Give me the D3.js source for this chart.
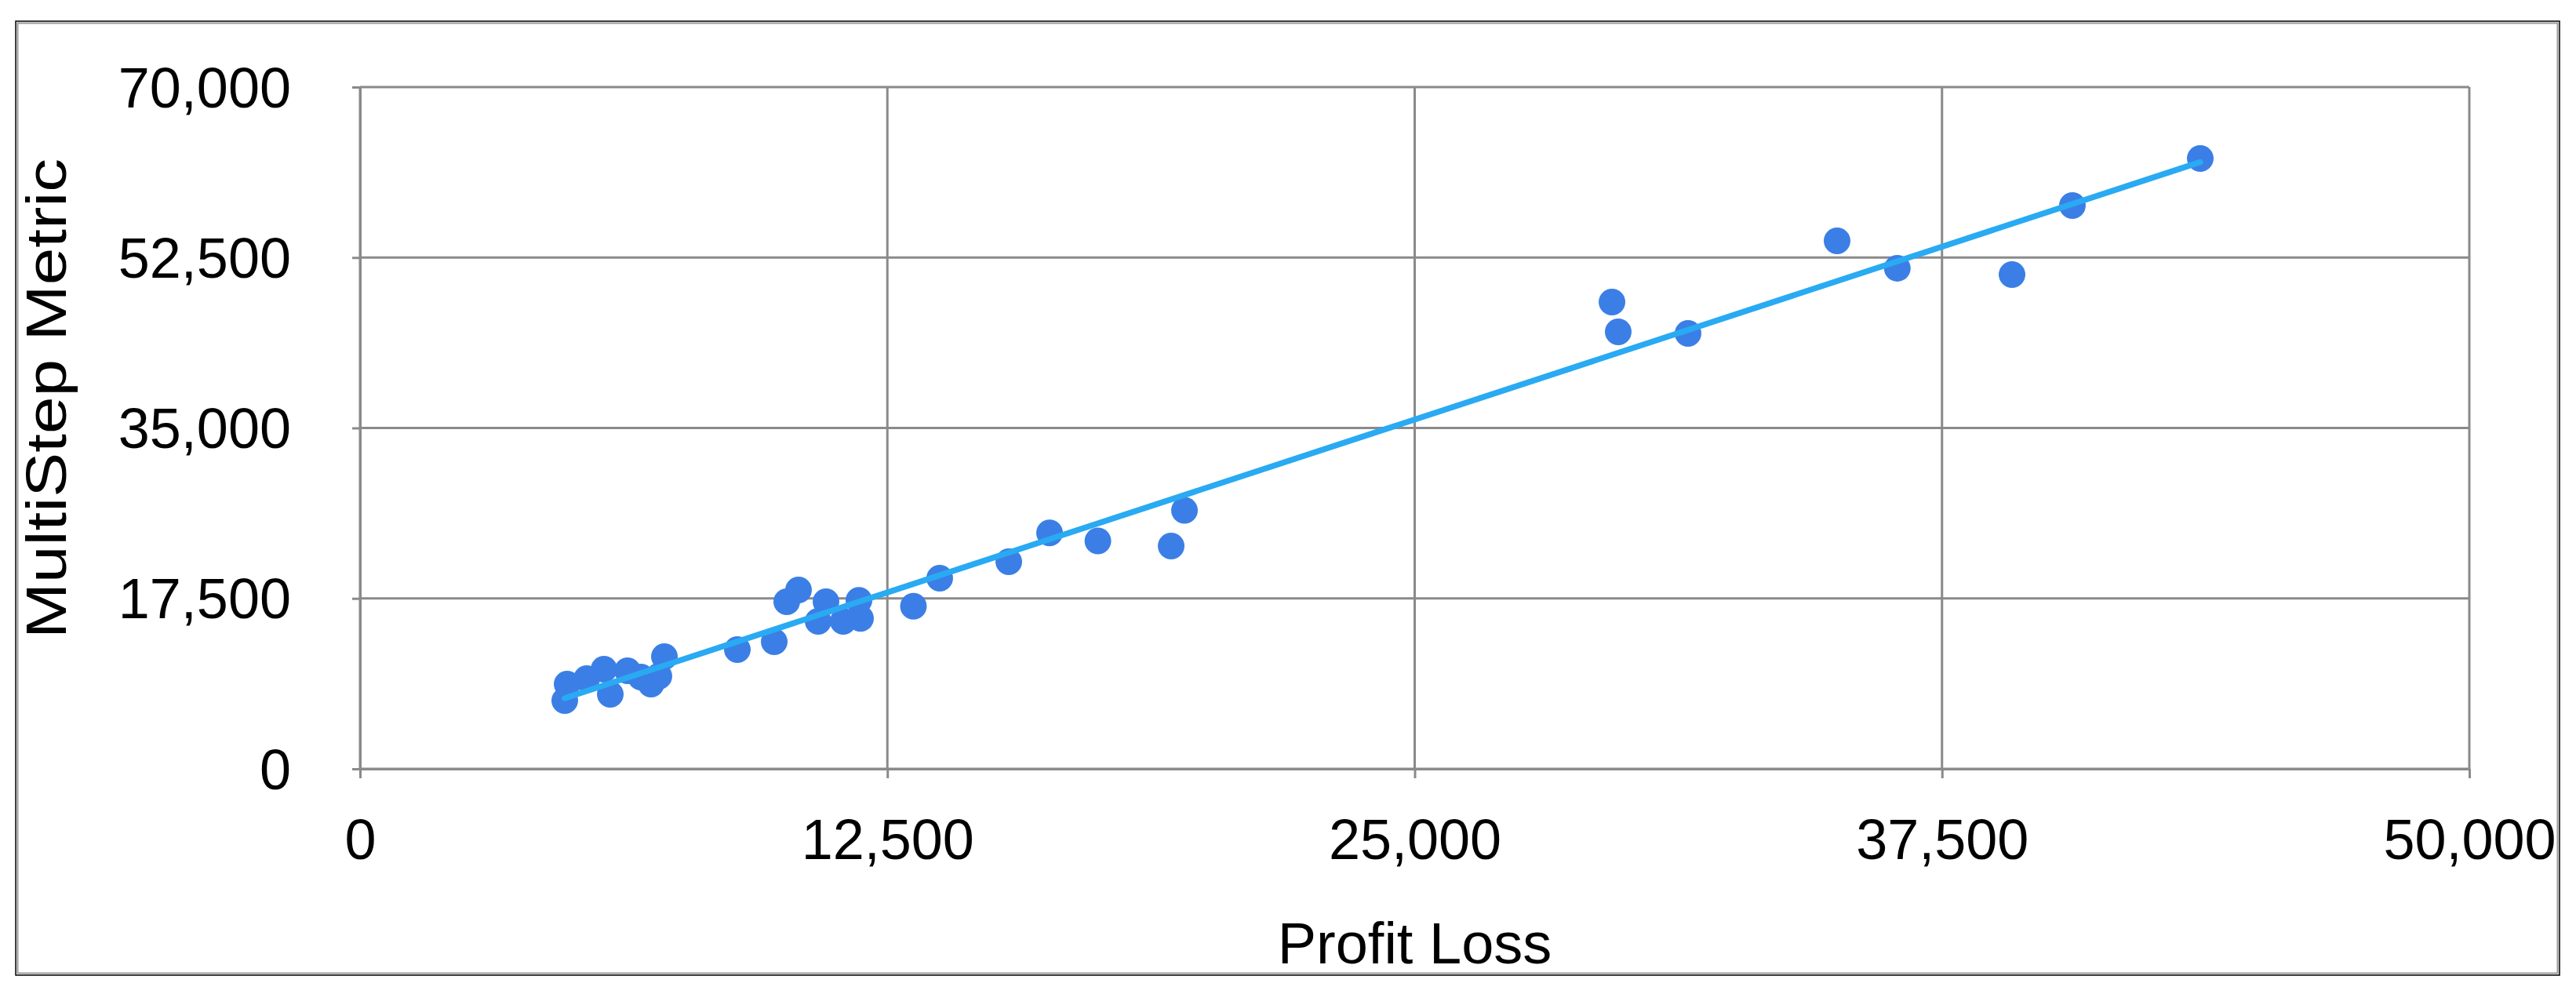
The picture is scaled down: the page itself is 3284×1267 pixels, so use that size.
<!DOCTYPE html>
<html>
<head>
<meta charset="utf-8">
<script src="https://cdn.jsdelivr.net/npm/d3@7"></script>
<style>
  html, body { margin: 0; padding: 0; background: #fff; }
  svg { display: block; }
  text { font-family: "Liberation Sans", Arial, Helvetica, sans-serif; fill: #000; }
</style>
</head>
<body>
<svg id="chart" width="3284" height="1267"></svg>
<script>
// ---- Data ----
const profitLoss = [
  4853, 4909, 5374, 5783, 5932, 6341, 6657, 6898, 7084, 7215,
  8944, 9818, 10115, 10394, 10859, 11045, 11454, 11826, 11863,
  13118, 13741, 15378, 16345, 17490, 19227, 19543,
  29677, 29825, 31480, 35013, 36440, 39160, 40591, 43622
];
const multiStepMetric = [
  7008, 8699, 9263, 10230, 7652, 10069, 9424, 8699, 9505, 11519,
  12244, 13049, 17157, 18365, 15143, 17157, 15143, 17300, 15450,
  16698, 19574, 21265, 24230, 23400, 22880, 26540,
  47930, 44866, 44705, 54210, 51400, 50750, 57835, 62668
];
// Linear trendline endpoints, as drawn in the reference
const trendX = [4850, 43620];
const trendY = [7250, 62300];

const xTicks = [0, 12500, 25000, 37500, 50000];
const yTicks = [0, 17500, 35000, 52500, 70000];
const xTitle = "Profit Loss";
const yTitle = "MultiStep Metric";

// ---- Layout ----
const svg = d3.select("#chart");
const plot = { left: 459, right: 3148, top: 111, bottom: 980 };
const gridColor = "#8a8a8a";
const fontSize = 72;

const x = d3.scaleLinear().domain([0, 50000]).range([plot.left, plot.right]);
const y = d3.scaleLinear().domain([0, 70000]).range([plot.bottom, plot.top]);
const fmt = d3.format(",");

// outer frame
svg.append("rect")
  .attr("x", 20).attr("y", 27).attr("width", 3243).attr("height", 1216)
  .attr("fill", "#fff").attr("stroke", "#000").attr("stroke-width", 1.5);
svg.append("rect")
  .attr("x", 22.5).attr("y", 29.5).attr("width", 3238).attr("height", 1211)
  .attr("fill", "none").attr("stroke", "#9a9a9a").attr("stroke-width", 2);

// gridlines
const grid = svg.append("g");
grid.selectAll("line.h").data(yTicks).join("line")
  .attr("x1", plot.left).attr("x2", plot.right)
  .attr("y1", d => y(d)).attr("y2", d => y(d))
  .attr("stroke", gridColor).attr("stroke-width", 3);
grid.selectAll("line.v").data(xTicks).join("line")
  .attr("y1", plot.top).attr("y2", plot.bottom)
  .attr("x1", d => x(d)).attr("x2", d => x(d))
  .attr("stroke", gridColor).attr("stroke-width", 3);

// axes
const xAxis = d3.axisBottom(x).tickValues(xTicks).tickFormat(fmt)
  .tickSizeInner(12).tickSizeOuter(0).tickPadding(0);
const yAxis = d3.axisLeft(y).tickValues(yTicks).tickFormat(fmt)
  .tickSizeInner(10).tickSizeOuter(0).tickPadding(78);

const gx = svg.append("g").attr("transform", `translate(0,${plot.bottom})`).call(xAxis);
const gy = svg.append("g").attr("transform", `translate(${plot.left},0)`).call(yAxis);

[gx, gy].forEach(g => {
  g.select(".domain").attr("stroke", gridColor).attr("stroke-width", 3);
  g.selectAll(".tick line").attr("stroke", gridColor).attr("stroke-width", 3);
  g.selectAll(".tick text")
    .attr("font-family", '"Liberation Sans", Arial, sans-serif')
    .attr("font-size", fontSize).attr("fill", "#000");
});
gx.selectAll(".tick text").attr("dy", null).attr("y", 115);
gy.selectAll(".tick text").attr("dy", "0.35em");

// axis titles
svg.append("text")
  .attr("x", (plot.left + plot.right) / 2).attr("y", 1228)
  .attr("text-anchor", "middle").attr("font-size", 74)
  .text(xTitle);
svg.append("text")
  .attr("transform", `translate(84,508) rotate(-90)`)
  .attr("text-anchor", "middle").attr("font-size", fontSize)
  .attr("textLength", 612).attr("lengthAdjust", "spacingAndGlyphs")
  .text(yTitle);

// points
const pts = profitLoss.map((v, i) => ({ x: v, y: multiStepMetric[i] }));
svg.append("g").selectAll("circle").data(pts).join("circle")
  .attr("cx", d => x(d.x)).attr("cy", d => y(d.y)).attr("r", 17)
  .attr("fill", "#3b7fe6");

// trendline
const trend = trendX.map((v, i) => ({ x: v, y: trendY[i] }));
svg.append("path").datum(trend)
  .attr("d", d3.line().x(d => x(d.x)).y(d => y(d.y)))
  .attr("fill", "none").attr("stroke", "#29aaf3").attr("stroke-width", 7.5)
  .attr("stroke-linecap", "round");
</script>
</body>
</html>
